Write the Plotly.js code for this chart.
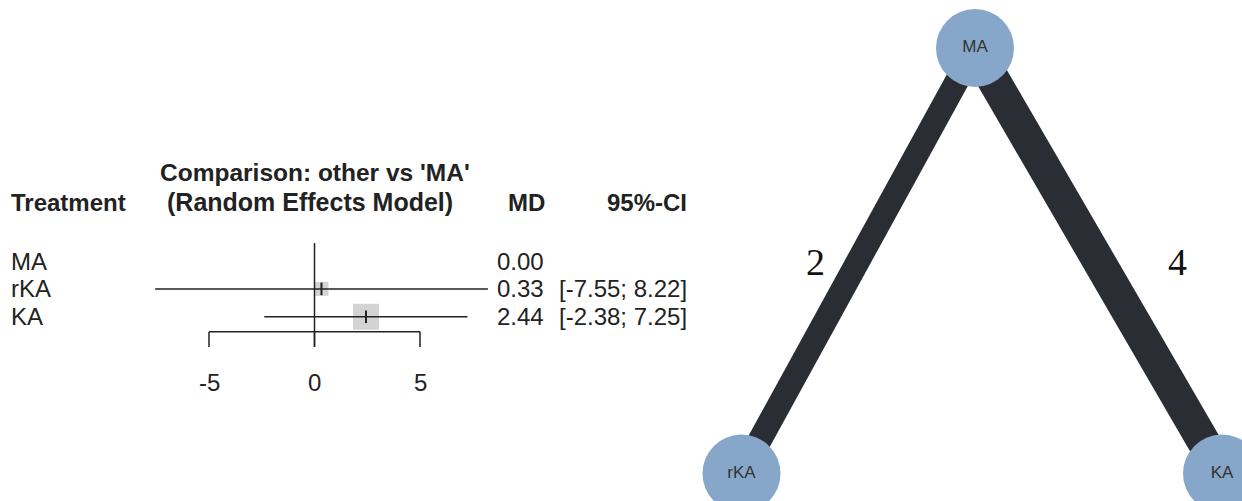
<!DOCTYPE html>
<html>
<head>
<meta charset="utf-8">
<script src="https://cdn.plot.ly/plotly-3.0.1.min.js"></script>
<style>html,body{margin:0;padding:0;background:#fff}#chart{width:1242px;height:501px}</style>
</head>
<body>
<div id="chart"></div>
<script>
// ---- data ----
const treatments = ['MA', 'rKA', 'KA'];
const md = [0.00, 0.33, 2.44];
const ciLower = [null, -7.55, -2.38];
const ciUpper = [null, 8.22, 7.25];
const xTicks = [-5, 0, 5];
const networkNodes = ['MA', 'rKA', 'KA'];
const edgeFrom = ['MA', 'MA'];
const edgeTo = ['rKA', 'KA'];
const edgeStudies = [2, 4];

// ---- styles / layout constants ----
const FONT = 'Liberation Sans, Arial, sans-serif';
const INK = '#222222';
const squareSize = [0, 14, 26];
const nodePos = { MA: [-0.028, 1], rKA: [-1, 0], KA: [1, 0] };
const edgeWidth = [24, 33];
const edgeLabelPos = [[-0.694, 0.497], [0.813, 0.497]];
const axisRow = 2.534, tickEndRow = 3.08, nullTopRow = -0.64;

const rows = treatments.map((_, i) => i);
const traces = [];

// squares (weights)
const sqIdx = rows.filter(i => ciLower[i] !== null);
traces.push({
  type: 'scatter', mode: 'markers', xaxis: 'x', yaxis: 'y', hoverinfo: 'skip',
  x: sqIdx.map(i => md[i]), y: sqIdx,
  marker: { symbol: 'square', size: sqIdx.map(i => squareSize[i]), color: '#c0c0c0', line: { width: 0 } }
});

// null line
traces.push({
  type: 'scatter', mode: 'lines', xaxis: 'x', yaxis: 'y', hoverinfo: 'skip',
  x: [0, 0], y: [nullTopRow, tickEndRow], line: { color: INK, width: 1.5 }
});

// CI lines
const ciX = [], ciY = [];
sqIdx.forEach(i => { ciX.push(ciLower[i], ciUpper[i], null); ciY.push(i, i, null); });
traces.push({
  type: 'scatter', mode: 'lines', xaxis: 'x', yaxis: 'y', hoverinfo: 'skip',
  x: ciX, y: ciY, line: { color: INK, width: 1.5 }
});

// point estimate marks
traces.push({
  type: 'scatter', mode: 'markers', xaxis: 'x', yaxis: 'y', hoverinfo: 'skip',
  x: sqIdx.map(i => md[i]), y: sqIdx,
  marker: { symbol: 'line-ns-open', size: 9, color: INK, line: { color: INK, width: 2 } }
});

// x axis line and ticks
const axX = [xTicks[0], xTicks[xTicks.length - 1], null], axY = [axisRow, axisRow, null];
xTicks.forEach(t => { axX.push(t, t, null); axY.push(axisRow, tickEndRow, null); });
traces.push({
  type: 'scatter', mode: 'lines', xaxis: 'x', yaxis: 'y', hoverinfo: 'skip',
  x: axX, y: axY, line: { color: INK, width: 1.5 }
});

// network edges
edgeFrom.forEach((f, k) => {
  const a = nodePos[f], b = nodePos[edgeTo[k]];
  traces.push({
    type: 'scatter', mode: 'lines', xaxis: 'x2', yaxis: 'y2', hoverinfo: 'skip',
    x: [a[0], b[0]], y: [a[1], b[1]], line: { color: '#2a2d34', width: edgeWidth[k] }
  });
});

// network nodes
traces.push({
  type: 'scatter', mode: 'markers+text', xaxis: 'x2', yaxis: 'y2', hoverinfo: 'skip', cliponaxis: false,
  x: networkNodes.map(n => nodePos[n][0]), y: networkNodes.map(n => nodePos[n][1]),
  text: networkNodes, textposition: 'middle center',
  textfont: { family: FONT, size: 17, color: '#333333' },
  marker: { size: 78, color: '#86a7c9', line: { width: 0 } }
});

// annotations
const ann = [];
function A(x, y, text, opts) {
  ann.push(Object.assign({ x, y, xref: 'x', yref: 'y', text, showarrow: false,
    font: { family: FONT, size: 24, color: INK }, xanchor: 'center', yanchor: 'middle', borderpad: 0 }, opts || {}));
}
A(-14.43, -2.115, '<b>Treatment</b>', { xanchor: 'left' });
A(0.0, -3.19, "<b>Comparison: other vs 'MA'</b>", { font: { family: FONT, size: 24.5, color: INK } });
A(-0.2, -2.115, '<b>(Random Effects Model)</b>', { font: { family: FONT, size: 25, color: INK } });
A(10.07, -2.115, '<b>MD</b>');
A(17.70, -2.115, '<b>95%-CI</b>', { xanchor: 'right' });
rows.forEach(i => {
  A(-14.43, i, treatments[i], { xanchor: 'left' });
  A(10.92, i, md[i].toFixed(2), { xanchor: 'right' });
  if (ciLower[i] !== null) A(17.70, i, '[' + ciLower[i].toFixed(2) + '; ' + ciUpper[i].toFixed(2) + ']', { xanchor: 'right' });
});
xTicks.forEach(t => A(t, 4.37, String(t)));
edgeStudies.forEach((s, k) => {
  ann.push({ x: edgeLabelPos[k][0], y: edgeLabelPos[k][1], xref: 'x2', yref: 'y2', text: String(s), showarrow: false,
    font: { family: 'Liberation Serif, Times New Roman, serif', size: 38, color: '#111111' }, xanchor: 'center', yanchor: 'middle' });
});

const layout = {
  width: 1242, height: 501,
  margin: { l: 0, r: 0, t: 0, b: 0, pad: 0 },
  paper_bgcolor: '#ffffff', plot_bgcolor: 'rgba(0,0,0,0)',
  showlegend: false,
  xaxis: { domain: [0, 1], range: [-14.905, 43.957], visible: false, fixedrange: true },
  yaxis: { domain: [0, 1], range: [8.602, -9.355], visible: false, fixedrange: true },
  xaxis2: { domain: [0, 1], range: [-4.0864, 1.0833], visible: false, overlaying: 'x', anchor: 'y2', fixedrange: true },
  yaxis2: { domain: [0, 1], range: [-0.0646, 1.1128], visible: false, overlaying: 'y', anchor: 'x2', fixedrange: true },
  annotations: ann
};

Plotly.newPlot('chart', traces, layout, { displayModeBar: false, staticPlot: true });
</script>
</body>
</html>
